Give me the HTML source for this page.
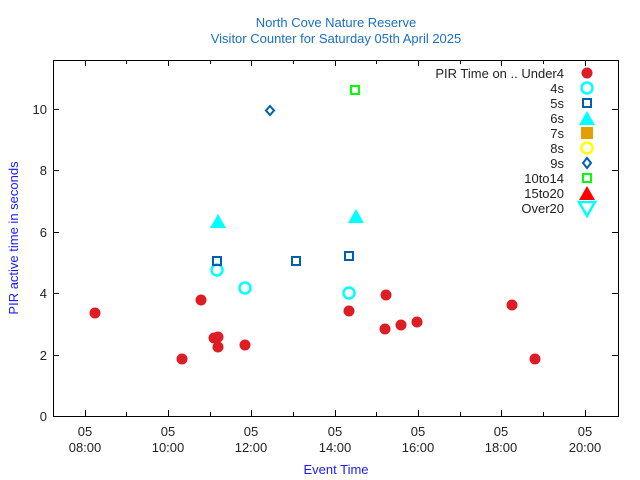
<!DOCTYPE html>
<html><head><style>body{margin:0;background:#fff}svg{display:block}text{font-family:"Liberation Sans",sans-serif}</style></head><body>
<svg width="640" height="480" viewBox="0 0 640 480">
<rect width="640" height="480" fill="#fff"/>
<text x="336" y="27" font-size="13" fill="#1a6fc4" text-anchor="middle">North Cove Nature Reserve</text>
<text x="336" y="43" font-size="13" fill="#1a6fc4" text-anchor="middle">Visitor Counter for Saturday 05th April 2025</text>
<rect x="53.5" y="60.5" width="565" height="356" fill="none" stroke="#000" stroke-width="1"/>
<g stroke="#000" stroke-width="1">
<path d="M53 416.5h6M618 416.5h-6M53 355.5h6M618 355.5h-6M53 293.5h6M618 293.5h-6M53 232.5h6M618 232.5h-6M53 170.5h6M618 170.5h-6M53 109.5h6M618 109.5h-6"/>
<path d="M85.5 416v-6M85.5 60v6M168.5 416v-6M168.5 60v6M251.5 416v-6M251.5 60v6M335.5 416v-6M335.5 60v6M418.5 416v-6M418.5 60v6M501.5 416v-6M501.5 60v6M585.5 416v-6M585.5 60v6"/>
<path d="M126.5 416v-4M126.5 60v4M210.5 416v-4M210.5 60v4M293.5 416v-4M293.5 60v4M376.5 416v-4M376.5 60v4M460.5 416v-4M460.5 60v4M543.5 416v-4M543.5 60v4"/>
</g>
<g font-size="13" fill="#222" text-anchor="end">
<text x="47" y="421">0</text><text x="47" y="360">2</text><text x="47" y="298">4</text><text x="47" y="237">6</text><text x="47" y="175">8</text><text x="47" y="114">10</text>
</g>
<g font-size="13" fill="#222" text-anchor="middle">
<text x="85" y="436">05</text><text x="85" y="452">08:00</text>
<text x="168" y="436">05</text><text x="168" y="452">10:00</text>
<text x="251" y="436">05</text><text x="251" y="452">12:00</text>
<text x="335" y="436">05</text><text x="335" y="452">14:00</text>
<text x="418" y="436">05</text><text x="418" y="452">16:00</text>
<text x="501" y="436">05</text><text x="501" y="452">18:00</text>
<text x="585" y="436">05</text><text x="585" y="452">20:00</text>
</g>
<text x="336" y="474" font-size="13" fill="#1a1aff" text-anchor="middle">Event Time</text>
<text transform="translate(18,238) rotate(-90)" font-size="13" fill="#1a1aff" text-anchor="middle">PIR active time in seconds</text>
<g font-size="13" fill="#222" text-anchor="end">
<text x="564" y="78">PIR Time on .. Under4</text><text x="564" y="93">4s</text><text x="564" y="108">5s</text><text x="564" y="123">6s</text><text x="564" y="138">7s</text><text x="564" y="153">8s</text><text x="564" y="168">9s</text><text x="564" y="183">10to14</text><text x="564" y="198">15to20</text><text x="564" y="213">Over20</text>
</g>
<g fill="#dd1c24">
<circle cx="587" cy="73" r="5.5"/>
<circle cx="95" cy="313" r="5.5"/><circle cx="182" cy="359" r="5.5"/><circle cx="201" cy="300" r="5.5"/><circle cx="214" cy="338" r="5.5"/><circle cx="218" cy="337" r="5.5"/><circle cx="218" cy="347" r="5.5"/><circle cx="245" cy="345" r="5.5"/><circle cx="349" cy="311" r="5.5"/><circle cx="385" cy="329" r="5.5"/><circle cx="386" cy="295" r="5.5"/><circle cx="401" cy="325" r="5.5"/><circle cx="417" cy="322" r="5.5"/><circle cx="512" cy="305" r="5.5"/><circle cx="535" cy="359" r="5.5"/>
</g>
<g fill="none" stroke="#00ffff" stroke-width="2.5">
<circle cx="587" cy="88" r="5.5"/><circle cx="217" cy="270" r="5.5"/><circle cx="245" cy="288" r="5.5"/><circle cx="349" cy="293" r="5.5"/>
</g>
<g fill="none" stroke="#0060ad" stroke-width="2">
<rect x="583" y="99" width="8" height="8"/><rect x="213" y="257" width="8" height="8"/><rect x="292" y="257" width="8" height="8"/><rect x="345" y="252" width="8" height="8"/>
<path d="M587 158l4 5-4 5-4-5z"/><path d="M270 106l4 4.5-4 4.5-4-4.5z"/>
</g>
<g fill="#00ffff">
<path d="M587 111l8 14h-16z"/><path d="M218 214l8 14h-16z"/><path d="M356 209l8 14h-16z"/>
<path d="M579 202h16l-8 14z" fill="none" stroke="#00ffff" stroke-width="2.5"/>
</g>
<rect x="581" y="127" width="12" height="12" fill="#e69f00"/>
<circle cx="587" cy="148" r="5.5" fill="none" stroke="#ffff00" stroke-width="2.5"/>
<g fill="none" stroke="#00ff00" stroke-width="2"><rect x="583" y="174" width="8" height="8"/><rect x="351" y="86" width="8" height="8"/></g>
<path d="M587 186l8 14h-16z" fill="#ff0000"/>
</svg>
</body></html>
